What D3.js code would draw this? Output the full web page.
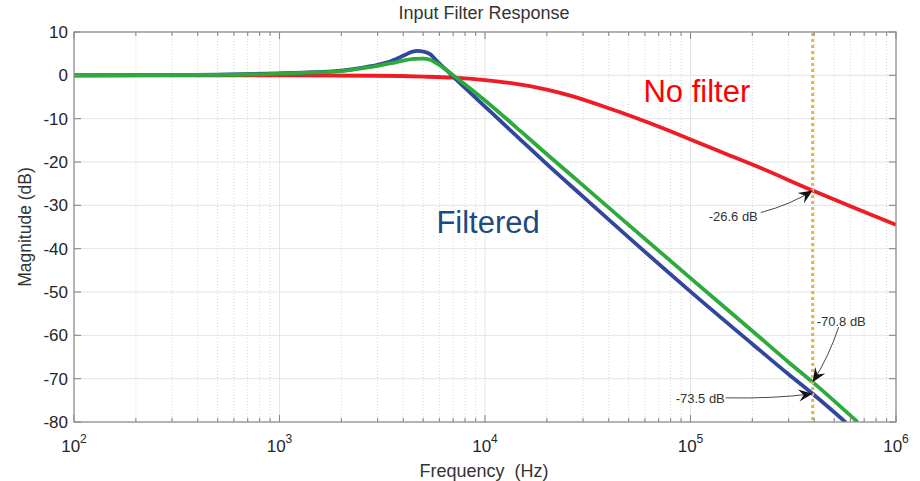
<!DOCTYPE html>
<html><head><meta charset="utf-8">
<script src="https://cdn.jsdelivr.net/npm/d3@7"></script>
<style>
body{margin:0;background:#fff}
svg{display:block}
text{font-family:"Liberation Sans",Arial,Helvetica,sans-serif}
</style>
</head><body>
<svg id="chart" width="920" height="481"></svg>
<script>
// ---- data ----
const freqRed   = [100, 1000, 3000, 5000, 7000, 10000, 13200, 20000, 26000, 40000, 50000, 80000, 100000, 150000, 220000, 393000, 600000, 1000000];
const dbRed     = [0, 0, -0.1, -0.3, -0.55, -1.1, -1.75, -3.3, -4.7, -7.6, -9.2, -12.9, -14.8, -18.2, -21.4, -26.6, -30.2, -34.5];

const freqBlue  = [100, 300, 500, 1000, 1500, 2000, 2500, 3000, 3500, 4000, 4400, 4700, 5000, 5400, 5800, 6500, 7100, 8000, 10000, 15000, 20000, 30000, 50000, 100000, 200000, 300000, 393000, 570000];
const dbBlue    = [0, 0.05, 0.15, 0.45, 0.75, 1.1, 1.7, 2.4, 3.3, 4.5, 5.4, 5.65, 5.5, 4.9, 3.4, 1.2, -0.6, -2.9, -7.2, -15.0, -20.5, -28.0, -37.4, -49.9, -62.0, -69.0, -73.5, -80.1];

const freqGreen = [100, 500, 1000, 1500, 2000, 2500, 3000, 3500, 4000, 4500, 5000, 5400, 5800, 6500, 7100, 8000, 10000, 15000, 20000, 30000, 50000, 100000, 200000, 300000, 393000, 650000];
const dbGreen   = [0, 0.1, 0.4, 0.7, 0.95, 1.6, 2.2, 2.8, 3.4, 3.8, 3.85, 3.6, 2.8, 1.2, -0.2, -2.1, -5.8, -13.0, -18.2, -25.4, -34.5, -46.8, -59.0, -66.2, -70.8, -80.0];

const xTickExponents = [2, 3, 4, 5, 6];
const yTickValues = [10, 0, -10, -20, -30, -40, -50, -60, -70, -80];
const markerFreq = 393000;
const annotationLabels = ["-26.6 dB", "-70.8 dB", "-73.5 dB"];
const annotationValues = [-26.6, -70.8, -73.5];

const titleText = "Input Filter Response";
const xLabelText = "Frequency  (Hz)";
const yLabelText = "Magnitude (dB)";
const seriesLabels = ["No filter", "Filtered"];

// ---- layout ----
const svg = d3.select("#chart");
const L = 74, R = 896, T = 32, B = 422;
const x = d3.scaleLog().domain([1e2, 1e6]).range([L, R]);
const y = d3.scaleLinear().domain([-80, 10]).range([B, T]);

const defs = svg.append("defs");
defs.append("clipPath").attr("id", "plotclip")
  .append("rect").attr("x", L).attr("y", T).attr("width", R - L).attr("height", B - T);

const minorTicks = [];
for (let k = 2; k <= 5; k++) for (let m = 2; m <= 9; m++) minorTicks.push(m * Math.pow(10, k));
const majorTicks = xTickExponents.map(e => Math.pow(10, e));

// grid
const grid = svg.append("g");
grid.selectAll(".gxm").data(minorTicks).join("line")
  .attr("x1", d => x(d)).attr("x2", d => x(d)).attr("y1", T).attr("y2", B)
  .attr("stroke", "#d6d6d6").attr("stroke-width", 1).attr("stroke-dasharray", "1,2");
grid.selectAll(".gxM").data(majorTicks).join("line")
  .attr("x1", d => x(d)).attr("x2", d => x(d)).attr("y1", T).attr("y2", B)
  .attr("stroke", "#e4e4e4").attr("stroke-width", 1);
grid.selectAll(".gy").data(yTickValues).join("line")
  .attr("x1", L).attr("x2", R).attr("y1", d => y(d)).attr("y2", d => y(d))
  .attr("stroke", "#e4e4e4").attr("stroke-width", 1);

// curves
const line = d3.line().x(d => x(d[0])).y(d => y(d[1])).curve(d3.curveMonotoneX);
const zip = (a, b) => a.map((v, i) => [v, b[i]]);
const curves = svg.append("g").attr("clip-path", "url(#plotclip)");
const lw = 3.8;
curves.append("path").datum(zip(freqRed, dbRed)).attr("d", line)
  .attr("fill", "none").attr("stroke", "#ee1c24").attr("stroke-width", lw).attr("stroke-linejoin", "round");
curves.append("path").datum(zip(freqBlue, dbBlue)).attr("d", line)
  .attr("fill", "none").attr("stroke", "#31479e").attr("stroke-width", lw).attr("stroke-linejoin", "round");
curves.append("path").datum(zip(freqGreen, dbGreen)).attr("d", line)
  .attr("fill", "none").attr("stroke", "#2eaa3c").attr("stroke-width", lw).attr("stroke-linejoin", "round");

// marker line
svg.append("line").attr("x1", x(markerFreq)).attr("x2", x(markerFreq)).attr("y1", T + 1).attr("y2", B)
  .attr("stroke", "#f5b32e").attr("stroke-width", 3).attr("stroke-dasharray", "3,3");

// axes box & ticks
const axisColor = "#8a8a8a";
const ax = svg.append("g");
ax.append("rect").attr("x", L).attr("y", T).attr("width", R - L).attr("height", B - T)
  .attr("fill", "none").attr("stroke", axisColor).attr("stroke-width", 1.2);
[[B, -1], [T, 1]].forEach(([yy, dir]) => {
  ax.selectAll(null).data(majorTicks).join("line")
    .attr("x1", d => x(d)).attr("x2", d => x(d)).attr("y1", yy).attr("y2", yy + dir * 7)
    .attr("stroke", axisColor).attr("stroke-width", 1.1);
  ax.selectAll(null).data(minorTicks).join("line")
    .attr("x1", d => x(d)).attr("x2", d => x(d)).attr("y1", yy).attr("y2", yy + dir * 4)
    .attr("stroke", axisColor).attr("stroke-width", 1.1);
});
[[L, 1], [R, -1]].forEach(([xx, dir]) => {
  ax.selectAll(null).data(yTickValues).join("line")
    .attr("x1", xx).attr("x2", xx + dir * 7).attr("y1", d => y(d)).attr("y2", d => y(d))
    .attr("stroke", axisColor).attr("stroke-width", 1.1);
});

// tick labels
const labColor = "#262626";
svg.append("g").selectAll("text").data(yTickValues).join("text")
  .attr("x", L - 6).attr("y", d => y(d)).attr("dy", "0.36em")
  .attr("text-anchor", "end").attr("font-size", 17).attr("fill", labColor)
  .text(d => d);
const xl = svg.append("g").selectAll("text").data(xTickExponents).join("text")
  .attr("x", d => x(Math.pow(10, d))).attr("y", 452)
  .attr("text-anchor", "middle").attr("fill", labColor);
xl.append("tspan").attr("font-size", 17).text("10");
xl.append("tspan").attr("font-size", 12).attr("dy", -9).text(d => d);

// titles
svg.append("text").attr("x", (L + R) / 2 - 1).attr("y", 19).attr("text-anchor", "middle")
  .attr("font-size", 18).attr("fill", "#333").text(titleText);
svg.append("text").attr("x", (L + R) / 2 - 1).attr("y", 477).attr("text-anchor", "middle")
  .attr("font-size", 18).attr("fill", "#333").style("white-space", "pre").text(xLabelText);
svg.append("text").attr("transform", `translate(31,${(T + B) / 2}) rotate(-90)`).attr("text-anchor", "middle")
  .attr("font-size", 17.5).attr("fill", "#333").text(yLabelText);

// series labels
svg.append("text").attr("x", x(5.9e4)).attr("y", 102).attr("text-anchor", "start")
  .attr("font-size", 31).attr("fill", "#ff0000").text(seriesLabels[0]);
svg.append("text").attr("x", x(5.8e3)).attr("y", 233).attr("text-anchor", "start")
  .attr("font-size", 31).attr("fill", "#1b4a84").text(seriesLabels[1]);

// annotations
defs.append("marker").attr("id", "arr").attr("viewBox", "-14 -7 16 14")
  .attr("refX", 0).attr("refY", 0).attr("markerWidth", 16).attr("markerHeight", 14)
  .attr("markerUnits", "userSpaceOnUse").attr("orient", "auto")
  .append("path").attr("d", "M0,0 L-14,-6 L-9,0 L-14,6 Z").attr("fill", "#111");

const mx = x(markerFreq);
const annLayout = [
  {tx: -104, ty: 26, sx: -52, sy: 22, cx: -22, cy: 14},
  {tx: 4, ty: -61, sx: 26, sy: -55, cx: 16, cy: -25},
  {tx: -137, ty: 5, sx: -87, sy: 4, cx: -40, cy: 5}
];
annotationValues.forEach((v, i) => {
  const px = mx, py = y(v), a = annLayout[i];
  svg.append("path")
    .attr("d", `M${px + a.sx},${py + a.sy} Q${px + a.cx},${py + a.cy} ${px},${py}`)
    .attr("fill", "none").attr("stroke", "#333").attr("stroke-width", 0.9)
    .attr("marker-end", "url(#arr)");
  svg.append("text").attr("x", px + a.tx).attr("y", py + a.ty).attr("dy", "0.35em")
    .attr("font-size", 13).attr("fill", "#333").attr("text-anchor", "start")
    .text(annotationLabels[i]);
});
</script>
</body></html>
